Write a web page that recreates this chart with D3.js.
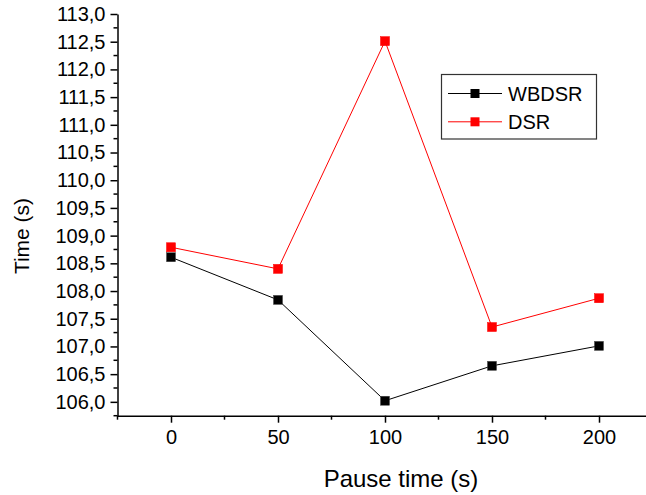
<!DOCTYPE html>
<html>
<head>
<meta charset="utf-8">
<script src="https://cdn.jsdelivr.net/npm/d3@7"></script>
<style>
  html, body { margin: 0; padding: 0; background: #fff; }
  svg { display: block; font-family: "Liberation Sans", Arial, sans-serif; }
</style>
</head>
<body>
<svg id="chart" width="646" height="495"></svg>
<script>
// Pause time (s) on the x axis
const pauseTimes = [0, 50, 100, 150, 200];
// Measured time (s) for each routing protocol
const wbdsrTimes = [108.61, 107.84, 106.02, 106.65, 107.01];
const dsrTimes = [108.79, 108.40, 112.51, 107.35, 107.87];
// Axis tick values
const xTickValues = [0, 50, 100, 150, 200];
const yTickValues = [106, 106.5, 107, 107.5, 108, 108.5, 109, 109.5, 110, 110.5, 111, 111.5, 112, 112.5, 113];

const series = [
  { name: "WBDSR", values: wbdsrTimes, color: "#000000" },
  { name: "DSR", values: dsrTimes, color: "#ff0000" }
];

const svg = d3.select("#chart");

const x = d3.scaleLinear().domain([-25, 225]).range([117.5, 652.5]);
const y = d3.scaleLinear().domain([105.75, 113]).range([415.7, 14]);

const fmt = v => d3.format(".1f")(v).replace(".", ",");

// Y axis: major ticks with labels, minor ticks every 0.25
const yAxisG = svg.append("g").attr("transform", `translate(${x(-25)},0)`);
yAxisG.call(d3.axisLeft(y).tickValues(yTickValues).tickFormat(fmt).tickSizeInner(7).tickSizeOuter(0).tickPadding(5));
yAxisG.selectAll(".tick line").attr("stroke", "#000").attr("stroke-width", 1.5);
yAxisG.selectAll(".tick text").attr("font-size", 20).attr("fill", "#000")
  .attr("font-family", "Liberation Sans, Arial, sans-serif");
yAxisG.select(".domain").attr("stroke", "#000").attr("stroke-width", 1.5);
const yMinor = d3.range(105.75, 113.01, 0.5);
yAxisG.selectAll(".minor").data(yMinor).enter().append("line")
  .attr("class", "minor")
  .attr("x1", 0).attr("x2", -4)
  .attr("y1", d => y(d)).attr("y2", d => y(d))
  .attr("stroke", "#000").attr("stroke-width", 1.5);

// X axis: major ticks at 50s, minor ticks in between
const xAxisG = svg.append("g").attr("transform", `translate(0,${y(105.75)})`);
xAxisG.call(d3.axisBottom(x).tickValues(xTickValues).tickFormat(d3.format("d")).tickSizeInner(7).tickSizeOuter(0).tickPadding(7));
xAxisG.selectAll(".tick line").attr("stroke", "#000").attr("stroke-width", 1.5);
xAxisG.selectAll(".tick text").attr("font-size", 20).attr("fill", "#000")
  .attr("font-family", "Liberation Sans, Arial, sans-serif");
xAxisG.select(".domain").attr("stroke", "#000").attr("stroke-width", 1.5);
const xMinor = d3.range(-25, 226, 50);
xAxisG.selectAll(".minor").data(xMinor).enter().append("line")
  .attr("class", "minor")
  .attr("x1", d => x(d)).attr("x2", d => x(d))
  .attr("y1", 0).attr("y2", 4)
  .attr("stroke", "#000").attr("stroke-width", 1.5);

// Axis titles
svg.append("text")
  .attr("x", 401).attr("y", 487)
  .attr("text-anchor", "middle")
  .attr("font-size", 24)
  .text("Pause time (s)");
svg.append("text")
  .attr("transform", "translate(29,236) rotate(-90)")
  .attr("text-anchor", "middle")
  .attr("font-size", 21)
  .text("Time (s)");

// Lines and square markers
const line = d3.line().x((d, i) => x(pauseTimes[i])).y(d => y(d));
const markerSize = 9;

series.forEach(s => {
  svg.append("path")
    .datum(s.values)
    .attr("d", line)
    .attr("fill", "none")
    .attr("stroke", s.color)
    .attr("stroke-width", 1);
  svg.selectAll(null).data(s.values).enter().append("rect")
    .attr("x", (d, i) => x(pauseTimes[i]) - markerSize / 2)
    .attr("y", d => y(d) - markerSize / 2)
    .attr("width", markerSize).attr("height", markerSize)
    .attr("fill", s.color)
    .attr("stroke", s.color === "#000000" ? "#444" : s.color)
    .attr("stroke-width", 0.5);
});

// Legend
const legend = svg.append("g");
legend.append("rect")
  .attr("x", 441.5).attr("y", 74.5).attr("width", 155).attr("height", 64.5)
  .attr("fill", "#fff").attr("stroke", "#333").attr("stroke-width", 1.2);
series.forEach((s, i) => {
  const ly = 93.5 + i * 28.3;
  legend.append("line")
    .attr("x1", 448).attr("x2", 502).attr("y1", ly).attr("y2", ly)
    .attr("stroke", s.color).attr("stroke-width", 1);
  legend.append("rect")
    .attr("x", 475 - markerSize / 2).attr("y", ly - markerSize / 2)
    .attr("width", markerSize).attr("height", markerSize)
    .attr("fill", s.color);
  legend.append("text")
    .attr("x", 508).attr("y", ly + 7)
    .attr("font-size", 20)
    .text(s.name);
});
</script>
</body>
</html>
